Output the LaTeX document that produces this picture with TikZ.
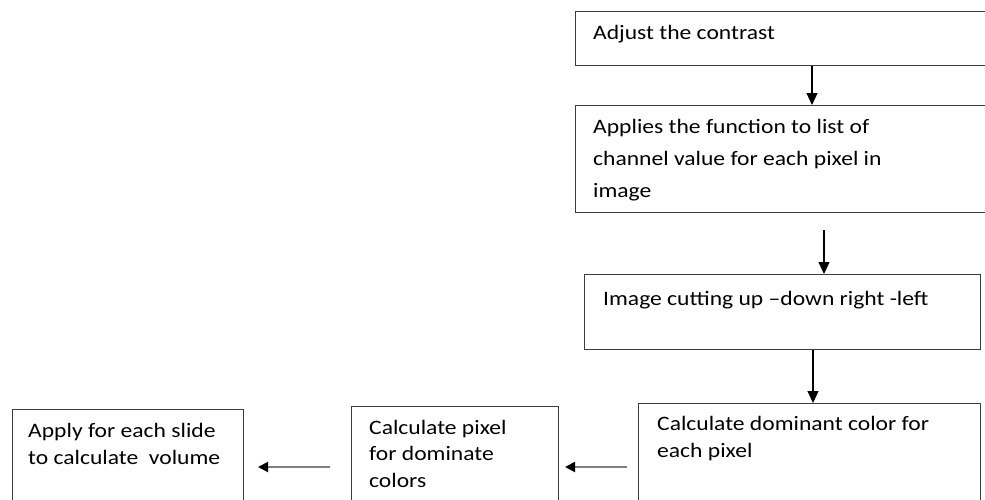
\documentclass[tikz,border=0pt]{standalone}
\usepackage{fontspec}
\setmainfont[FakeStretch=1.15]{Carlito}
\usetikzlibrary{arrows.meta}
\definecolor{boxgray}{HTML}{3C3C3C}
\definecolor{linegray}{HTML}{7F7F7F}
\begin{document}
\begin{tikzpicture}[x=1pt,y=-1pt,
  box/.style={draw=boxgray,line width=1.3pt,inner sep=0pt,anchor=north west},
  txt/.style={anchor=base west,inner sep=0pt,align=left,font=\fontsize{20.5}{32}\selectfont},
  txtb/.style={txt,font=\fontsize{20.5}{26.5}\selectfont},
  arr/.style={-{Triangle[length=12pt,width=11pt]},line width=1.2pt,draw=black},
  harr/.style={draw=linegray,line width=2pt,-{Triangle[length=10pt,width=10pt,color=black,fill=black]}}]
\useasboundingbox (0,0) rectangle (985,499);
\clip (0,0) rectangle (985,499);
% boxes
\node[box,minimum width=430pt,minimum height=54pt] (b1) at (575,11) {};
\node[box,minimum width=430pt,minimum height=107pt] (b2) at (575,105) {};
\node[box,minimum width=396pt,minimum height=75pt] (b3) at (584,274) {};
\node[box,minimum width=342pt,minimum height=120pt] (b4) at (638,403) {};
\node[box,minimum width=207pt,minimum height=120pt] (b5) at (351,406) {};
\node[box,minimum width=231pt,minimum height=120pt] (b6) at (12,409) {};
% texts (anchor = baseline of the last line)
\node[txt] (t1) at (593,39) {Adjust the contrast};
\node[txt] (t2) at (593,197) {Applies the function to list of\\channel value for each pixel in\\image};
\node[txt] (t3) at (603,305) {Image cutting up –down right -left};
\node[txtb] (t4) at (657,457) {Calculate dominant color for\\each pixel};
\node[txtb] (t5) at (369,487) {Calculate pixel\\for dominate\\colors};
\node[txtb] (t6) at (28,464) {Apply for each slide\\to calculate~~volume};
% connectors
\coordinate (a2s) at (824,230);
\coordinate (a4s) at (627,467);
\coordinate (a4e) at (565,467);
\coordinate (a5s) at (330,467);
\coordinate (a5e) at (258,467);
\draw[arr] (812,0 |- b1.south) -- (812,0 |- b2.north);
\draw[arr] (a2s) -- (a2s |- b3.north);
\draw[arr] (813,0 |- b3.south) -- (813,0 |- b4.north);
\draw[harr] (a4s) -- (a4e);
\draw[harr] (a5s) -- (a5e);
\end{tikzpicture}
\end{document}
